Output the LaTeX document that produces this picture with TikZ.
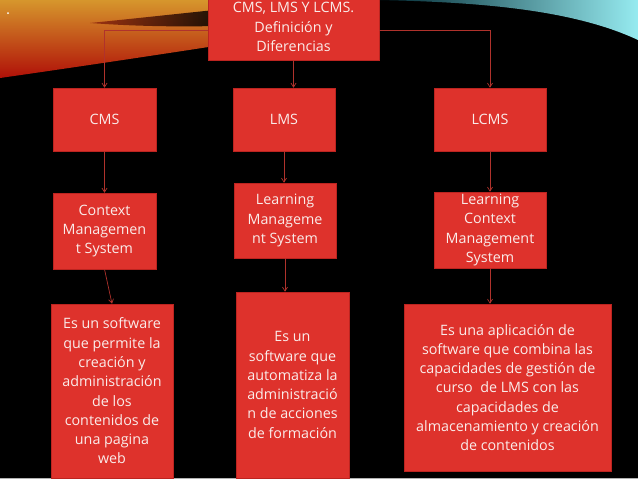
\documentclass[tikz,border=0pt]{standalone}
\usepackage{fontspec}
\setmainfont{Open Sans}
\usepackage{tikz}
\usetikzlibrary{arrows.meta}

\definecolor{boxred}{RGB}{222,50,44}
\definecolor{boxedge}{RGB}{188,36,32}
\definecolor{linkred}{RGB}{176,50,44}
\definecolor{txtpink}{RGB}{250,236,234}

\begin{document}
\begin{tikzpicture}[x=1pt, y=-1pt,
    every node/.style={font=\fontsize{14.3}{19.3}\selectfont, text=txtpink},
    box/.style={fill=boxred, draw=boxedge, line width=0.5pt, inner sep=0pt, align=center},
    link/.style={draw=linkred, line width=0.7pt, -{Straight Barb[length=4pt, width=5pt]}}]
  % Row y-positions (pixel units, y going down)
  \def\yHead{119.5} \def\yName{230}

  \useasboundingbox (0,0) rectangle (638,479);
  \clip (0,0) rectangle (638,479);

  % Slide background with the two swooshes at the top
  \fill[black] (0,0) rectangle (638,479);
  \shade[top color={rgb,255:red,214;green,150;blue,44}, middle color={rgb,255:red,228;green,56;blue,20},
         bottom color={rgb,255:red,176;green,16;blue,8}]
    (0,0) -- (215,0) -- (215,46) .. controls (150,56) and (70,68) .. (0,78) -- cycle;
  \shade[left color={rgb,255:red,150;green,40;blue,14}, right color=black, opacity=0.85]
    (90,23) .. controls (140,18) and (185,13) .. (215,10)
    -- (215,26) .. controls (175,27) and (130,26) .. (90,23) -- cycle;
  \shade[left color={rgb,255:red,0;green,40;blue,50}, right color={rgb,255:red,150;green,235;blue,240}]
    (379,0) .. controls (470,2) and (570,8) .. (638,40) -- (638,0) -- cycle;
  \fill[white] (8,13) circle (1pt);
  \draw[gray!60, line width=1pt] (0,478.5) -- (638,478.5);

  % Title
  \node[box, minimum width=171pt, minimum height=66pt] (title) at (293.5,27)
    {CMS, LMS Y LCMS.\\Definición y\\Diferencias};

  % Acronyms
  \node[box, minimum width=103pt, minimum height=63pt] (cms) at (104.5,\yHead) {CMS};
  \node[box, minimum width=102pt, minimum height=63pt] (lms) at (284,\yHead) {LMS};
  \node[box, minimum width=112pt, minimum height=63pt] (lcms) at (490,\yHead) {LCMS};

  % Full names
  \node[box, minimum width=103pt, minimum height=76pt] (cmsname) at (104.5,231)
    {Context\\Managemen\\t System};
  \node[box, minimum width=102pt, minimum height=75pt] (lmsname) at (285,220.5)
    {Learning\\Manageme\\nt System};
  \node[box, minimum width=112pt, minimum height=76pt] (lcmsname) at (490,\yName)
    {Learning\\Context\\Management\\System};

  % Definitions
  \node[box, minimum width=122pt, minimum height=174pt] (cmsdef) at (112,391)
    {Es un software\\que permite la\\creación y\\administración\\de los\\contenidos de\\una pagina\\web};
  \node[box, minimum width=113pt, minimum height=186pt] (lmsdef) at (292.5,385)
    {Es un\\software que\\automatiza la\\administració\\n de acciones\\de formación};
  \node[box, minimum width=207pt, minimum height=167pt] (lcmsdef) at (507.5,387.5)
    {Es una aplicación de\\software que combina las\\capacidades de gestión de\\curso~ de LMS con las\\capacidades de\\almacenamiento y creación\\de contenidos};

  % Connectors
  \draw[link] ([yshift=-3pt]title.west) -| (cms);
  \draw[link] ([yshift=-3pt]title.east) -| (lcms);
  \draw[link] (title.south) -- (title.south |- lms.north);
  \draw[link] (cms) -- (cmsname);
  \draw[link] (lms) -- (lms |- lmsname.north);
  \draw[link] (lcms) -- (lcmsname);
  \draw[link] (cmsname.south) -- (cmsdef.north);
  \draw[link] (lmsname.south) -- (lmsname.south |- lmsdef.north);
  \draw[link] (lcmsname.south) -- (lcmsname.south |- lcmsdef.north);
\end{tikzpicture}
\end{document}
